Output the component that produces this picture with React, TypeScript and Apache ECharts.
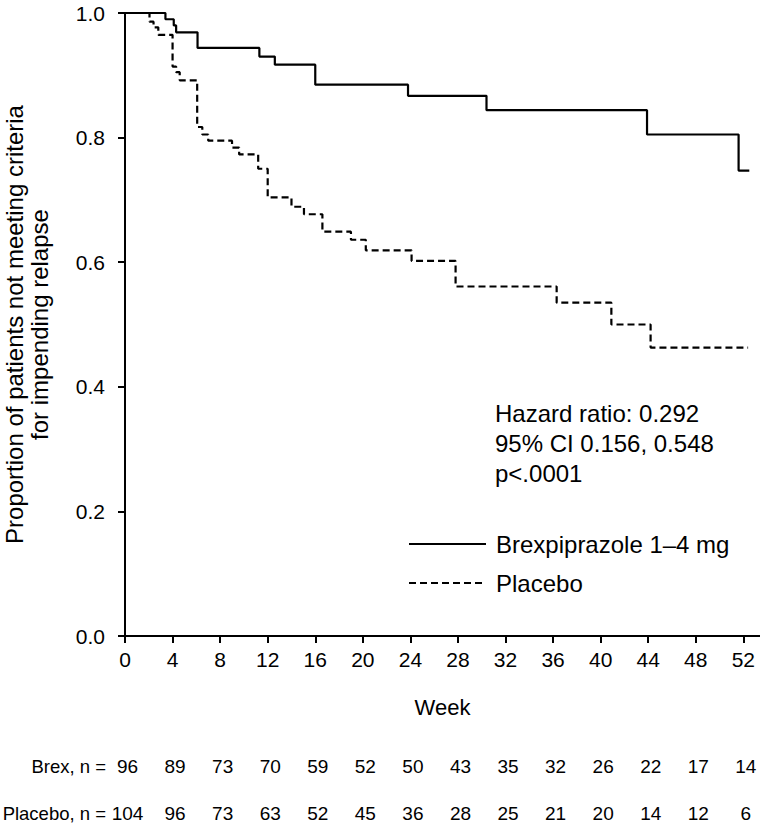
import React, { useEffect, useRef } from "react";
import * as echarts from "echarts";

const FONT = 'Arial, "Liberation Sans", sans-serif';

// Tick labels (weeks)
const tickWeeks = [0, 4, 8, 12, 16, 20, 24, 28, 32, 36, 40, 44, 48, 52];

// Number at risk
const brexAtRisk = [96, 89, 73, 70, 59, 52, 50, 43, 35, 32, 26, 22, 17, 14];
const placeboAtRisk = [104, 96, 73, 63, 52, 45, 36, 28, 25, 21, 20, 14, 12, 6];
const atRiskTitles = ["Brex, n =", "Placebo, n ="];

// Kaplan-Meier step points (week, proportion)
const brexWeeks = [0, 3.4, 4.1, 4.3, 6.1, 11.3, 12.6, 16.0, 23.8, 30.4, 43.9, 51.6, 52.5];
const brexSurvival = [1.0, 0.99, 0.98, 0.969, 0.944, 0.93, 0.917, 0.885, 0.867, 0.844, 0.805, 0.747, 0.747];

const placeboWeeks = [0, 2.06, 2.4, 2.8, 4.0, 4.3, 4.6, 6.07, 6.5, 7.0, 9.0, 9.6, 11.2, 12.0, 14.0, 15.05, 16.6, 19.0, 20.25, 24.1, 27.8, 36.3, 40.9, 44.2, 52.4];
const placeboSurvival = [1.0, 0.986, 0.977, 0.965, 0.914, 0.905, 0.892, 0.817, 0.805, 0.795, 0.784, 0.773, 0.75, 0.704, 0.689, 0.677, 0.649, 0.636, 0.619, 0.602, 0.561, 0.535, 0.5, 0.463, 0.463];

const brexName = "Brexpiprazole 1–4 mg";
const placeboName = "Placebo";
const yAxisTitle = "Proportion of patients not meeting criteria\nfor impending relapse";
const statsText = "Hazard ratio: 0.292\n95% CI 0.156, 0.548\np<.0001";

export default function App() {
  const ref = useRef<HTMLDivElement>(null);

  useEffect(() => {
    if (!ref.current) return;
    const chart = echarts.init(ref.current, undefined, { renderer: "svg" });
    const black = "#000";

    const atRiskAxis = (values: number[], offset: number) => ({
      type: "value",
      gridIndex: 0,
      position: "bottom",
      offset,
      min: 0,
      max: 53.4,
      interval: 4,
      axisLine: { show: false },
      axisTick: { show: false },
      splitLine: { show: false },
      axisLabel: {
        customValues: tickWeeks,
        formatter: (v: number) => {
          const i = tickWeeks.indexOf(v);
          return i >= 0 ? String(values[i]) : "";
        },
        verticalAlign: "middle",
        margin: 0,
        padding: [0, 0, 0, 5],
        fontSize: 19,
        color: black,
        fontFamily: FONT,
      },
    });

    const titleText = (text: string, y: number) => ({
      type: "text",
      x: 106,
      y,
      style: {
        text,
        align: "right",
        verticalAlign: "middle",
        textAlign: "right",
        textVerticalAlign: "middle",
        fontSize: 18.5,
        fill: black,
        fontFamily: FONT,
      },
    });

    chart.setOption({
      animation: false,
      backgroundColor: "#fff",
      textStyle: { fontFamily: FONT, color: black },
      grid: {
        left: 125,
        top: 13,
        width: 635,
        height: 623,
        containLabel: false,
        outerBoundsMode: "none",
      },
      legend: {
        data: [brexName, placeboName],
        orient: "vertical",
        left: 408,
        top: 532,
        itemWidth: 77,
        itemHeight: 14,
        itemGap: 15,
        padding: 0,
        itemStyle: { opacity: 0, borderWidth: 0 },
        textStyle: { fontSize: 24, color: black, fontFamily: FONT, padding: [0, 0, 0, 5] },
      },
      xAxis: [
        {
          type: "value",
          gridIndex: 0,
          min: 0,
          max: 53.4,
          interval: 4,
          axisLine: { show: true, onZero: false, lineStyle: { color: black, width: 2 } },
          axisTick: { show: true, length: 7, lineStyle: { color: black, width: 2 }, customValues: tickWeeks },
          axisLabel: {
            customValues: tickWeeks,
            formatter: (v: number) => (tickWeeks.indexOf(v) >= 0 ? String(v) : ""),
            fontSize: 21,
            margin: 13,
            color: black,
            fontFamily: FONT,
          },
          splitLine: { show: false },
          name: "Week",
          nameLocation: "middle",
          nameGap: 60,
          nameTextStyle: { fontSize: 22, color: black, fontFamily: FONT },
        },
        atRiskAxis(brexAtRisk, 130),
        atRiskAxis(placeboAtRisk, 177),
      ],
      yAxis: {
        type: "value",
        min: 0,
        max: 1,
        interval: 0.2,
        axisLine: { show: true, lineStyle: { color: black, width: 2 } },
        axisTick: { show: true, length: 7, lineStyle: { color: black, width: 2 } },
        axisLabel: {
          formatter: (v: number) => v.toFixed(1),
          fontSize: 21,
          margin: 20,
          color: black,
          fontFamily: FONT,
        },
        splitLine: { show: false },
        name: yAxisTitle,
        nameLocation: "middle",
        nameGap: 73,
        nameTextStyle: { fontSize: 24, lineHeight: 25, color: black, fontFamily: FONT },
      },
      graphic: [
        {
          type: "text",
          left: 495,
          top: 398,
          style: {
            text: statsText,
            fontSize: 24,
            lineHeight: 30,
            fill: black,
            fontFamily: FONT,
          },
        },
        titleText(atRiskTitles[0], 766),
        titleText(atRiskTitles[1], 813),
      ],
      series: [
        {
          name: brexName,
          type: "line",
          step: "end",
          symbol: "none",
          xAxisIndex: 0,
          data: brexWeeks.map((w, i) => [w, brexSurvival[i]]),
          lineStyle: { color: black, width: 2.2, type: "solid" },
          itemStyle: { color: black },
        },
        {
          name: placeboName,
          type: "line",
          step: "end",
          symbol: "none",
          xAxisIndex: 0,
          data: placeboWeeks.map((w, i) => [w, placeboSurvival[i]]),
          lineStyle: { color: black, width: 2.2, type: [7, 4] },
          itemStyle: { color: black },
        },
      ],
    });

    return () => chart.dispose();
  }, []);

  return (
    <div
      ref={ref}
      style={{ position: "absolute", left: 0, top: 0, width: 760, height: 824 }}
    />
  );
}
